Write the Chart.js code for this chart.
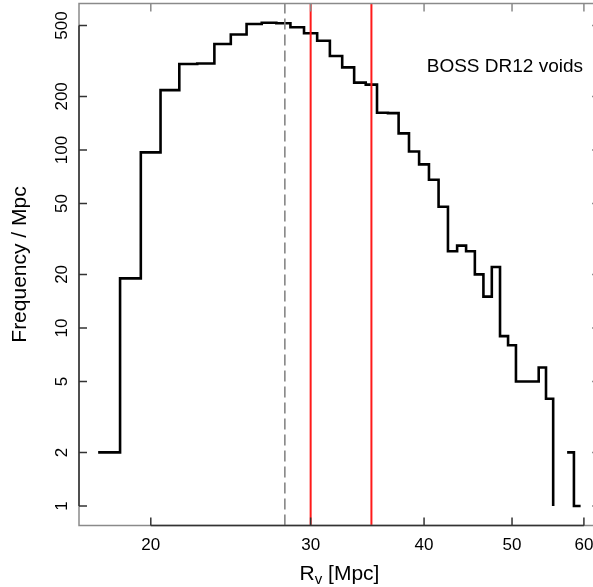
<!DOCTYPE html>
<html>
<head>
<meta charset="utf-8">
<script src="https://cdn.jsdelivr.net/npm/chart.js@4.4.1/dist/chart.umd.min.js"></script>
<style>
  html, body { margin: 0; padding: 0; background: #fff; overflow: hidden; }
  #contenedor { width: 602px; height: 587px; }
</style>
</head>
<body>
<div id="contenedor"><canvas id="histograma" width="602" height="587"></canvas></div>
<script>
// ##########  datos  ##########
// radio del void (inicio de cada bin, Mpc)
const radios = [17.5, 18.5, 19.5, 20.5, 21.5, 22.5, 23.5, 24.5, 25.5, 26.5,
                27.5, 28.5, 29.5, 30.5, 31.5, 32.5, 33.5, 34.5, 35.5, 36.5,
                37.5, 38.5, 39.5, 40.5, 41.5, 42.5, 43.5, 44.5, 45.5, 46.5,
                47.5, 48.5, 49.5, 50.5, 51.5, 52.5, 53.5, 54.5, 55.5, 56.5,
                57.5, 58.5, 59.5];
// frecuencia por Mpc (null = cero, no se dibuja en escala log)
const frecuencias = [2, 19, 97, 217, 304, 306, 394, 445, 510, 518,
                     515, 489, 453, 411, 337, 291, 239, 233, 162, 161,
                     124, 98, 83, 68, 48, 27, 29, 27, 20, 15,
                     22, 9, 8, 5, 5, 5, 6, 4, 1, null,
                     2, 1, 1];
const lineaGris = [28.1];      // linea punteada
const lineasRojas = [30, 35];  // lineas rojas
const ticksX = [20, 30, 40, 50, 60];
const ticksY = [1, 2, 5, 10, 20, 50, 100, 200, 500];
const rangoX = [16.67, 62.5];
const rangoY = [0.777, 665];
const etiqueta = 'BOSS DR12 voids';

const fuente = '"Liberation Sans", Arial, Helvetica, sans-serif';
Chart.defaults.font.family = fuente;
Chart.defaults.color = '#000';

const verticales = (xs, color, dash) => xs.map(x => ({
  data: [{x: x, y: rangoY[0]}, {x: x, y: rangoY[1]}],
  borderColor: color,
  borderWidth: dash.length ? 1.6 : 2,
  borderDash: dash,
  pointRadius: 0,
  order: 1
}));

// caja, ticks hacia adentro, texto y titulo del eje x
const marco = {
  id: 'marco',
  afterDraw(chart) {
    const ctx = chart.ctx;
    const a = chart.chartArea;
    const sx = chart.scales.x, sy = chart.scales.y;
    ctx.save();
    ctx.lineWidth = 1.5;
    ctx.strokeStyle = '#8a8a8a';
    ctx.strokeRect(a.left, a.top, a.right - a.left, a.bottom - a.top);
    // ticks arriba / derecha
    ctx.beginPath();
    ticksX.forEach(v => { const p = sx.getPixelForValue(v); ctx.moveTo(p, a.top); ctx.lineTo(p, a.top + 8); });
    ticksY.forEach(v => { const p = sy.getPixelForValue(v); ctx.moveTo(a.right, p); ctx.lineTo(a.right - 8, p); });
    ctx.stroke();
    // ejes abajo / izquierda
    ctx.strokeStyle = '#333';
    ctx.beginPath();
    ctx.moveTo(sx.getPixelForValue(ticksX[0]), a.bottom);
    ctx.lineTo(sx.getPixelForValue(ticksX[ticksX.length - 1]), a.bottom);
    ctx.moveTo(a.left, sy.getPixelForValue(ticksY[0]));
    ctx.lineTo(a.left, sy.getPixelForValue(ticksY[ticksY.length - 1]));
    ticksX.forEach(v => { const p = sx.getPixelForValue(v); ctx.moveTo(p, a.bottom); ctx.lineTo(p, a.bottom - 8); });
    ticksY.forEach(v => { const p = sy.getPixelForValue(v); ctx.moveTo(a.left, p); ctx.lineTo(a.left + 8, p); });
    ctx.stroke();
    // etiqueta
    ctx.fillStyle = '#000';
    ctx.font = '19px ' + fuente;
    ctx.textAlign = 'right';
    ctx.textBaseline = 'alphabetic';
    ctx.fillText(etiqueta, 583, 72);
    // titulo eje x: R_v [Mpc]
    const fG = '21px ' + fuente, fC = '15px ' + fuente;
    ctx.font = fG; const wR = ctx.measureText('R').width, wM = ctx.measureText(' [Mpc]').width;
    ctx.font = fC; const wv = ctx.measureText('v').width;
    let x0 = (a.left + a.right) / 2 - (wR + wv + wM) / 2;
    const base = 580;
    ctx.textAlign = 'left';
    ctx.font = fG; ctx.fillText('R', x0, base);
    ctx.font = fC; ctx.fillText('v', x0 + wR, base + 4);
    ctx.font = fG; ctx.fillText(' [Mpc]', x0 + wR + wv, base);
    ctx.restore();
  }
};

const ctxHist = document.getElementById('histograma').getContext('2d');
const grafico = new Chart(ctxHist, {
  type: 'line',
  data: {
    datasets: [
      {
        data: radios.map((r, i) => ({x: r, y: frecuencias[i]})),
        stepped: 'before',
        borderColor: '#000',
        borderWidth: 2.6,
        pointRadius: 0,
        spanGaps: false,
        order: 2
      },
      ...verticales(lineaGris, '#858585', [11, 5]),
      ...verticales(lineasRojas, '#ff1a1a', [])
    ]
  },
  options: {
    responsive: false,
    animation: false,
    devicePixelRatio: 1,
    layout: { padding: { top: 3.5, right: 2, left: 0, bottom: 0 } },
    plugins: { legend: { display: false }, tooltip: { enabled: false } },
    scales: {
      x: {
        type: 'logarithmic',
        min: rangoX[0], max: rangoX[1],
        grid: { display: false, drawTicks: false },
        border: { display: false },
        afterBuildTicks: s => { s.ticks = ticksX.map(v => ({value: v})); },
        afterFit: s => { s.height = 61.5; s.paddingLeft = 0; s.paddingRight = 0; },
        ticks: {
          autoSkip: false, maxRotation: 0, padding: 10,
          font: { size: 17 },
          callback: v => String(v)
        }
      },
      y: {
        type: 'logarithmic',
        min: rangoY[0], max: rangoY[1],
        grid: { display: false, drawTicks: false },
        border: { display: false },
        afterBuildTicks: s => { s.ticks = ticksY.map(v => ({value: v})); },
        afterFit: s => { s.width = 79; s.paddingTop = 0; s.paddingBottom = 0; },
        ticks: {
          autoSkip: false, minRotation: 90, maxRotation: 90,
          crossAlign: 'center', padding: 2.5,
          font: { size: 17 },
          callback: v => String(v)
        },
        title: {
          display: true, text: 'Frequency / Mpc',
          font: { size: 21 }, padding: { top: 8, bottom: 0 }
        }
      }
    }
  },
  plugins: [marco]
});
</script>
</body>
</html>
